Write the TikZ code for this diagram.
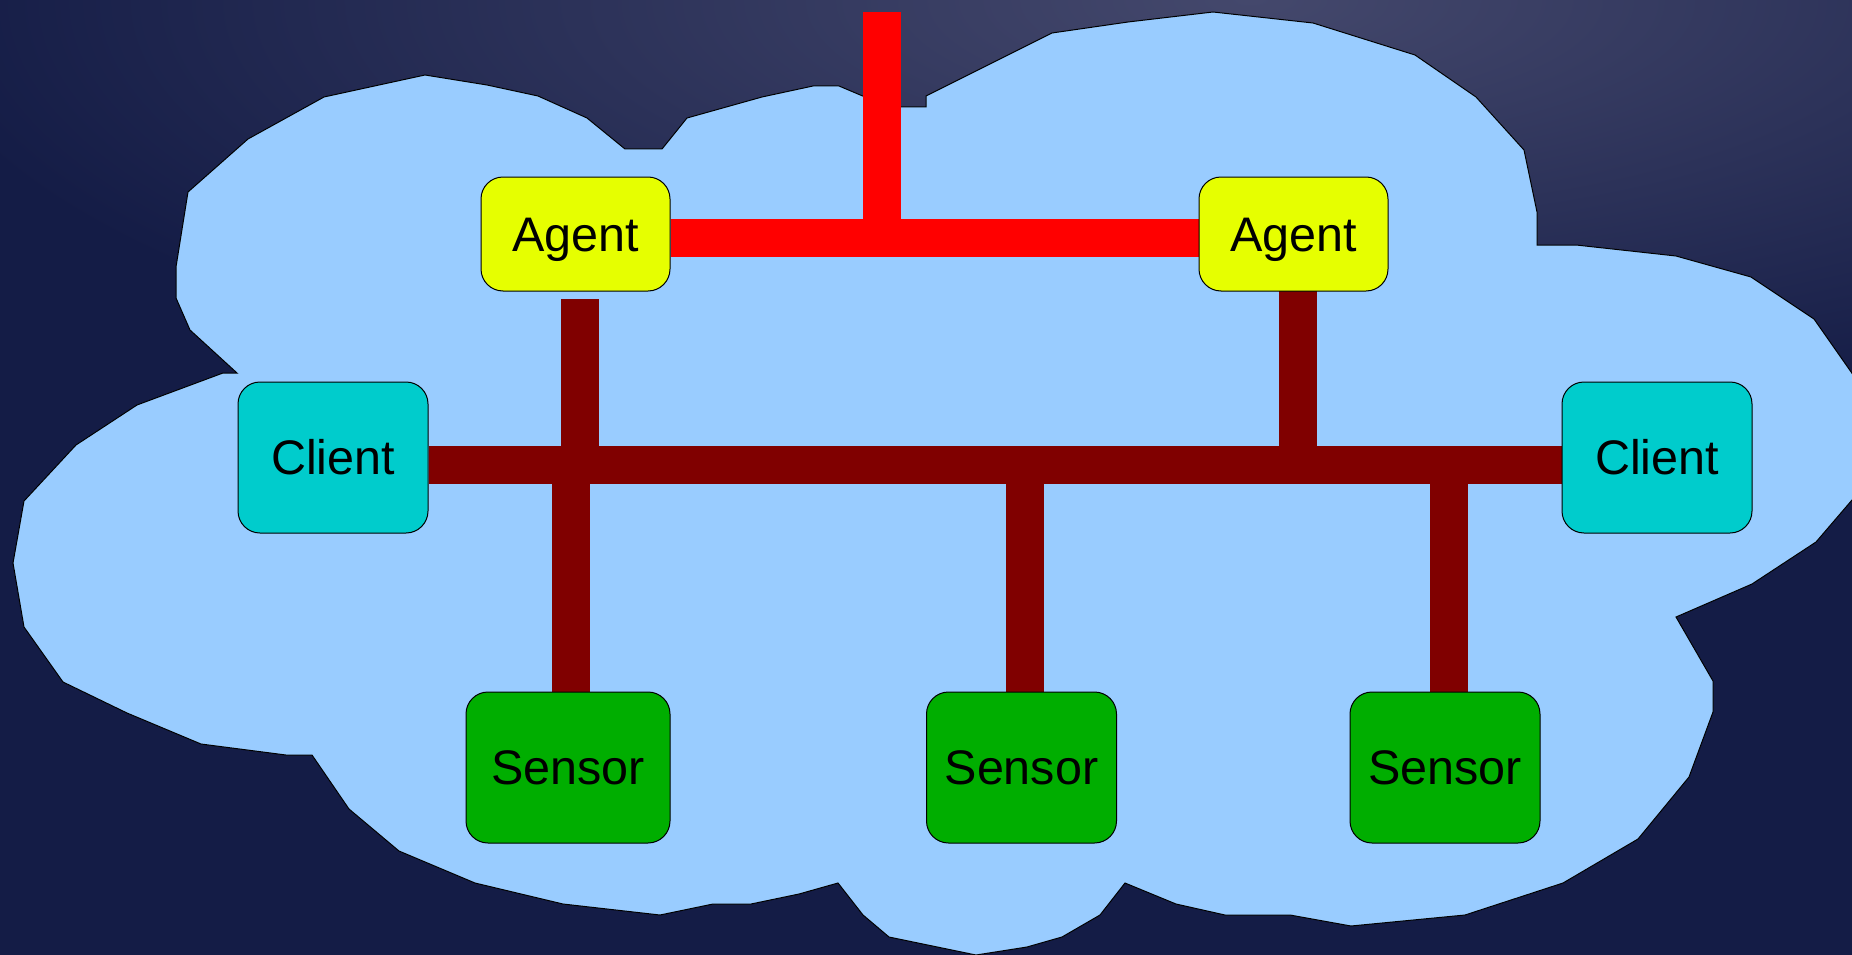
\documentclass[tikz,border=0pt]{standalone}
\usepackage{fontspec}
\setmainfont{Liberation Sans}
\definecolor{navy}{RGB}{20,28,70}
\definecolor{glow}{RGB}{68,72,108}
\definecolor{cloud}{RGB}{153,204,255}
\definecolor{agent}{RGB}{230,255,0}
\definecolor{client}{RGB}{0,204,204}
\definecolor{sensor}{RGB}{0,174,0}
\definecolor{wan}{RGB}{255,0,0}
\definecolor{lan}{RGB}{128,0,0}
\pgfdeclarelayer{bg}
\pgfdeclarelayer{links}
\pgfsetlayers{bg,links,main}
\tikzset{
  box/.style={draw=black, line width=1pt, rounded corners=22pt, inner sep=0pt,
    minimum width=190pt, minimum height=151pt, text height=34.5pt, text depth=0pt,
    font=\fontsize{48.5}{58}\selectfont},
  agentbox/.style={box, fill=agent, minimum width=189pt, minimum height=114pt},
  clientbox/.style={box, fill=client},
  sensorbox/.style={box, fill=sensor},
  wanbar/.style={draw=wan, line width=38pt},
  lanbar/.style={draw=lan, line width=38pt}
}

\begin{document}
\begin{tikzpicture}[x=1pt,y=-1pt]
\useasboundingbox (0,0) rectangle (1852,955);
\begin{pgfonlayer}{bg}
\clip (0,0) rectangle (1852,955);
\fill[navy] (0,0) rectangle (1852,955);
\shade[inner color=glow, outer color=navy] (-100,-440) rectangle (2600,440);
\filldraw[fill=cloud, draw=black, line width=1pt]
  (24,501) -- (76,445) -- (137,405) -- (223,373) -- (237,373) -- (190,330)
  -- (176,298) -- (176,267) -- (188,192) -- (248,139) -- (324,97) -- (425,75)
  -- (487,85) -- (538,96) -- (587,118) -- (625,149) -- (662,149) -- (687,118)
  -- (762,97) -- (813,86) -- (839,86) -- (865,97) -- (880,107) -- (926,107)
  -- (926,96) -- (1052,33) -- (1128,22) -- (1213,12) -- (1313,23) -- (1415,55)
  -- (1476,97) -- (1524,150) -- (1537,212) -- (1537,245) -- (1576,245)
  -- (1676,256) -- (1751,277) -- (1814,319) -- (1870,399) -- (1870,479)
  -- (1816,542) -- (1752,584) -- (1676,617) -- (1713,681) -- (1713,712)
  -- (1689,777) -- (1638,839) -- (1563,883) -- (1465,915) -- (1351,926)
  -- (1290,915) -- (1225,915) -- (1176,904) -- (1125,883) -- (1100,915)
  -- (1062,937) -- (1027,947) -- (976,955) -- (889,937) -- (863,915)
  -- (838,883) -- (799,894) -- (751,904) -- (713,904) -- (660,915)
  -- (563,904) -- (475,883) -- (399,851) -- (349,809) -- (312,755)
  -- (286,755) -- (201,744) -- (127,713) -- (63,682) -- (24,627) -- (13,563)
  -- cycle;
\end{pgfonlayer}

\node[agentbox] (agentL) at (575.5,234) {Agent};
\node[agentbox] (agentR) at (1293.5,234) {Agent};
\node[clientbox] (clientL) at (333,457.5) {Client};
\node[clientbox] (clientR) at (1657,457.5) {Client};
\node[sensorbox, minimum width=204pt] (sensor1) at (568,767.5) {Sensor};
\node[sensorbox] (sensor2) at (1021.5,767.5) {Sensor};
\node[sensorbox] (sensor3) at (1445,767.5) {Sensor};

\begin{pgfonlayer}{links}
\coordinate (uplink) at (882,12);
\draw[wanbar] ([yshift=-4pt]agentL.east) -- ([yshift=-4pt]agentR.west);
\draw[wanbar] (uplink) -- (uplink |- agentL.east);
\draw[lanbar] ([yshift=-7.5pt]clientL.east) -- ([yshift=-7.5pt]clientR.west);
\coordinate (tapL) at (579.5,299);
\coordinate (tapR) at (1297.5,291);
\draw[lanbar] (tapL) -- (tapL |- clientL.east);
\draw[lanbar] (tapR) -- (tapR |- clientL.east);
\foreach \n/\x in {1/571,2/1024.5,3/1448.5}{
  \coordinate (drop\n) at (\x,465);
  \draw[lanbar] (drop\n) -- (drop\n |- sensor\n.north);
}
\end{pgfonlayer}
\end{tikzpicture}
\end{document}
